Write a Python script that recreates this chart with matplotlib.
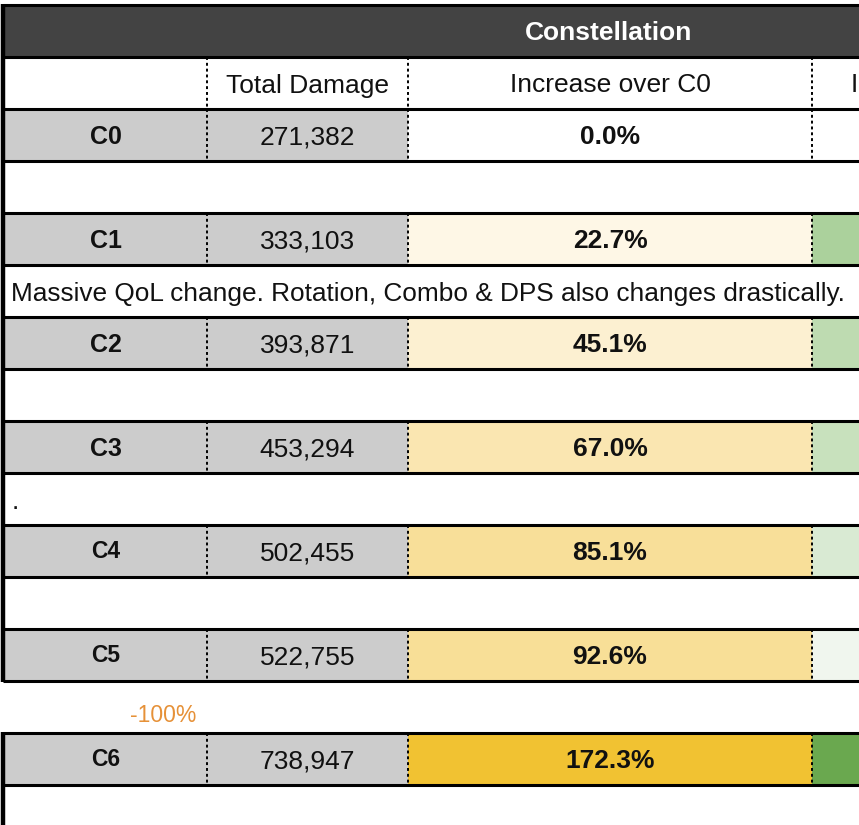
import matplotlib
matplotlib.use("Agg")
import matplotlib.pyplot as plt
from matplotlib.patches import Rectangle

plt.rcParams['font.family'] = ['Liberation Sans', 'DejaVu Sans']

# data
labels = ["C0", "C1", "C2", "C3", "C4", "C5", "C6"]
damage = [271382, 333103, 393871, 453294, 502455, 522755, 738947]
increase = [0.0, 22.7, 45.1, 67.0, 85.1, 92.6, 172.3]
# text in the row under each constellation (none under C6)
notes = ["", "Massive QoL change. Rotation, Combo & DPS also changes drastically.",
         "", ".", "", "-100%"]
header = "Constellation"
# last column is cut off at the right edge of the screenshot, only its "I" shows
col_titles = ["Total Damage", "Increase over C0", "I"]

# cell colours (conditional formatting in the sheet)
inc_colors = ["#ffffff", "#fef7e6", "#fcf0d1", "#fae6b1", "#f8df99", "#f8df97", "#f1c232"]
next_colors = ["#ffffff", "#abd19c", "#bedbb1", "#c8e1bd", "#d9ead3", "#f0f6ee", "#6aa84f"]
label_sizes = [18, 18, 18, 18, 16.5, 16.5, 16.5]

W, H = 859, 825
top = 5
rh = 52
xcols = [5, 207, 408, 812, W]
grey = "#cccccc"
dark = "#434343"

fig = plt.figure(figsize=(W / 100, H / 100), dpi=100)
ax = fig.add_axes([0, 0, 1, 1])
ax.set_xlim(0, W)
ax.set_ylim(H, 0)
ax.axis("off")

lw_line = 2.2
fs = 19
base = 35.5

# header band
ax.add_patch(Rectangle((xcols[0], top), W - xcols[0], rh, color=dark, lw=0))
ax.text(609, top + rh / 2 + 9, header, color="white", fontsize=19,
        fontweight="bold", ha="center", va="baseline")

# column title row
y = top + rh
ax.text((xcols[1] + xcols[2]) / 2, y + base, col_titles[0], fontsize=fs,
        ha="center", va="baseline", color="#111111")
ax.text((xcols[2] + xcols[3]) / 2, y + base, col_titles[1], fontsize=fs,
        ha="center", va="baseline", color="#111111")
ax.text(851, y + base, col_titles[2], fontsize=fs, ha="left", va="baseline",
        color="#111111")
dotted_rows = [y]
hlines = [top, y, y + rh]

y = y + rh
gap_rows = []
for i, lab in enumerate(labels):
    ax.add_patch(Rectangle((xcols[0], y), xcols[2] - xcols[0], rh, color=grey, lw=0))
    ax.add_patch(Rectangle((xcols[2], y), xcols[3] - xcols[2], rh, color=inc_colors[i], lw=0))
    ax.add_patch(Rectangle((xcols[3], y), W - xcols[3], rh, color=next_colors[i], lw=0))
    small = label_sizes[i] < fs - 1
    ax.text((xcols[0] + xcols[1]) / 2, y + rh / 2 + (7.5 if small else 9), lab,
            fontsize=label_sizes[i], fontweight="bold", ha="center", va="baseline",
            color="#111111")
    ax.text((xcols[1] + xcols[2]) / 2, y + base, f"{damage[i]:,}", fontsize=fs,
            ha="center", va="baseline", color="#111111")
    ax.text((xcols[2] + xcols[3]) / 2, y + base, f"{increase[i]:.1f}%", fontsize=fs,
            fontweight="bold", ha="center", va="baseline", color="#111111")
    dotted_rows.append(y)
    hlines += [y, y + rh]
    y += rh
    if i < len(notes):
        note = notes[i]
        if note.startswith("-"):
            ax.text(163, y + 41, note, fontsize=16.5, color="#e69138",
                    ha="center", va="baseline")
            gap_rows.append(y)
        elif note == ".":
            ax.text(12, y + 36, note, fontsize=fs, ha="left", va="baseline",
                    color="#111111")
        elif note:
            ax.text(11, y + 35.5, note, fontsize=fs - 0.1, ha="left", va="baseline",
                    color="#111111")
        y += rh

# dotted column separators in the data rows
for r in dotted_rows:
    for xc in xcols[1:4]:
        ax.plot([xc, xc], [r, r + rh], color="black", lw=1.4,
                linestyle=(0, (1.5, 1.5)), solid_capstyle="butt")

# thick row borders
for hy in sorted(set(hlines)):
    ax.plot([xcols[0] - 2, W], [hy, hy], color="black", lw=lw_line,
            solid_capstyle="butt")

# left border, broken where the -100% row sits
gy = gap_rows[0]
ax.plot([2.5, 2.5], [top - 1.5, gy + 1], color="black", lw=3.2, solid_capstyle="butt")
ax.plot([2.5, 2.5], [gy + rh - 1, H], color="black", lw=3.2, solid_capstyle="butt")

fig.savefig("out.png", dpi=100, facecolor="white")
